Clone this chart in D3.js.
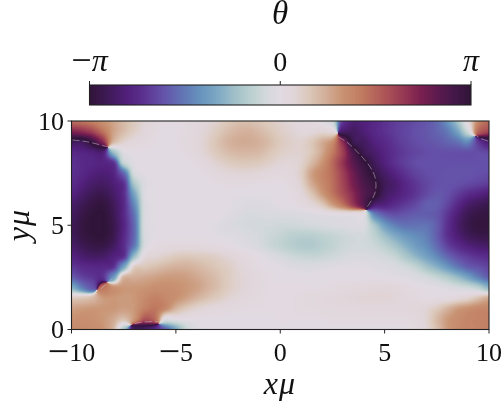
<!DOCTYPE html>
<html><head><meta charset="utf-8">
<script src="https://cdn.jsdelivr.net/npm/d3@7/dist/d3.min.js"></script>
<style>
html,body{margin:0;padding:0;background:#fff;}
#wrap{position:relative;width:504px;height:402px;overflow:hidden;}
canvas,svg{position:absolute;left:0;top:0;}
text{font-family:"Liberation Serif",serif;fill:#111;}
</style></head><body><div id="wrap"><canvas id="field"></canvas><svg id="chart" width="504" height="402"></svg></div>
<script>
// Phase, in hundredths of pi. Rows run y = 10 down to 0, columns x = -10 .. 10.
const xGrid = d3.range(41).map(i => -10 + i * 0.5);
const yGrid = d3.range(21).map(i => 10 - i * 0.5);
const phaseRows = [
[46,44,40,33,27,20,14,8,4,1, 0,2,4,7,11,15,18,18,16,13, 10,7,4,2,-3,-10,-70,-82,-80,-76, -72,-68,-66,-63,-60,-55,-42,-22,5,38,48],
[72,68,60,45,28,19,12,6,2,0, 1,2,5,9,14,19,22,23,20,16, 12,9,6,6,8,5,-85,-88,-82,-76, -72,-68,-65,-62,-60,-56,-50,-35,-8,50,60],
[-90,-90,95,70,22,10,5,3,1,0, 1,3,6,11,17,22,25,25,23,19, 14,11,10,15,24,34,70,-92,-88,-80, -75,-70,-66,-63,-61,-59,-56,-52,-45,-70,-85],
[-76,-78,-80,-82,-25,-3,0,0,0,0, 0,2,5,10,15,19,21,21,20,16, 12,10,10,15,26,42,62,90,-92,-85, -78,-72,-68,-65,-63,-62,-62,-62,-62,-63,-65],
[-72,-75,-77,-78,-72,-12,-2,0,0,0, 0,0,2,6,10,13,15,15,14,11, 8,7,10,20,32,48,66,84,97,-90, -80,-72,-67,-63,-62,-62,-62,-62,-62,-62,-62],
[-72,-76,-80,-82,-78,-55,-6,-1,0,0, 0,0,0,2,5,7,8,8,7,5, 4,5,12,28,38,47,62,78,92,-96, -86,-78,-71,-66,-63,-62,-61,-61,-61,-62,-63],
[-74,-80,-85,-87,-82,-72,-20,-4,-1,0, 0,0,0,0,1,2,2,2,1,1, 0,3,10,25,36,46,60,75,88,97, -90,-84,-76,-70,-65,-62,-61,-62,-64,-66,-68],
[-78,-85,-91,-93,-86,-74,-35,-3,-1,0, 0,0,0,0,0,0,-1,-1,-1,-1, 0,1,6,16,30,44,57,70,85,95, -88,-82,-76,-70,-64,-60,-62,-68,-74,-78,-82],
[-85,-91,-96,-98,-90,-76,-45,-5,-1,0, 0,0,0,0,0,-1,-2,-3,-3,-2, 0,0,3,7,15,30,45,65,85,-85, -80,-74,-69,-64,-58,-58,-65,-75,-85,-90,-93],
[-88,-95,-99,-100,-92,-76,-52,-5,-1,0, 0,0,0,0,0,-2,-4,-6,-6,-5, -5,-5,-4,-3,-2,-1,0,0,-1,-45, -58,-62,-60,-58,-58,-60,-70,-82,-92,-96,-97],
[-90,-97,-100,-100,-94,-78,-55,-5,-1,0, 0,0,0,-1,-2,-4,-6,-7,-8,-8, -9,-9,-8,-7,-6,-5,-4,-3,-4,-20, -38,-48,-52,-52,-52,-58,-72,-85,-94,-98,-98],
[-90,-96,-99,-100,-93,-76,-55,-6,-1,0, 0,0,0,0,-1,-2,-3,-5,-7,-10, -12,-15,-16,-16,-14,-12,-10,-8,-8,-14, -24,-33,-40,-44,-48,-58,-72,-82,-90,-94,-95],
[-85,-91,-95,-95,-88,-74,-50,-6,2,3, 4,4,4,3,2,1,-1,-3,-6,-10, -13,-16,-18,-18,-16,-13,-10,-8,-8,-10, -15,-22,-30,-38,-44,-54,-66,-74,-80,-84,-86],
[-78,-84,-87,-86,-80,-72,-25,5,8,11, 14,15,14,13,11,8,5,2,0,-3, -6,-9,-11,-12,-11,-9,-7,-5,-5,-6, -8,-12,-20,-28,-36,-45,-55,-63,-68,-72,-74],
[-70,-74,-76,-76,-72,-35,12,15,18,21, 23,23,21,18,15,12,8,4,1,0, -1,-3,-4,-4,-3,-2,-1,-1,-1,-2, -3,-5,-8,-13,-22,-30,-40,-50,-58,-62,-66],
[-58,-66,-70,-72,-40,22,24,26,28,30, 30,29,26,22,18,13,9,6,3,1, 0,0,0,0,0,0,0,0,0,0, 0,-1,-2,-4,-7,-12,-18,-26,-36,-48,-58],
[-30,-48,-60,45,34,31,31,32,34,34, 33,31,28,23,18,13,9,6,3,1, 1,1,1,1,1,2,3,4,5,6, 6,5,3,1,0,-1,-3,-6,-9,-15,-28],
[15,16,20,30,31,30,31,36,40,37, 33,28,22,17,13,9,6,4,2,1, 1,1,2,3,4,5,6,7,8,8, 8,7,5,3,1,2,3,6,10,18,26],
[28,30,31,31,31,29,31,40,44,36, 22,14,9,6,4,3,2,1,1,1, 1,1,2,2,3,3,4,4,5,5, 5,5,5,6,8,14,22,30,34,37,38],
[33,34,33,31,26,18,32,55,48,-2, 0,0,0,0,0,0,0,0,0,0, 1,1,1,1,1,2,2,2,2,2, 2,2,2,4,9,20,30,35,38,39,40],
[36,36,35,32,22,-20,-88,-85,-75,-58, -35,-12,-3,-1,0,0,0,0,0,0, 0,0,0,0,0,0,0,0,0,0, 0,0,0,2,8,18,30,36,38,39,40]
];
// Colour bar stops, hundredths of pi -> colour
const colorStops = [-100,-90,-80,-73,-62,-52,-43,-32,-24,-15,-8,0,8,15,24,32,43,53,64,73,82,90,100];
const colorValues = ["#301438","#3f1a58","#52207c","#5a2d8c","#6450a8","#6272b4","#6590bc","#80aac4","#a0bfc8","#bcd0d0","#d2d8dc","#e2dae2","#e0d4d6","#dcc8ba","#d2ae98","#c99474","#c07a60","#b05a58","#983a54","#7c2050","#5e1a4e","#46184a","#301438"];
// Branch cuts (thin pale lines joining the vortices)
const cutA = [[-9.95,9.09],[-9.23,9.0],[-8.23,8.75]];
const cutB = [[-9,1.68],[-8.52,2.02],[-8.04,2.45]];
const cutC = [[-7.42,0.14],[-6.7,0.34],[-5.88,0.38]];
const cutD = [[2.78,9.23],[3.25,8.94],[3.83,8.37],[4.31,7.79],[4.55,7.26],[4.55,6.59],[4.16,5.87]];
const cutE = [[9.23,9.42],[9.57,9.18],[9.95,9.04]];
const xTicks = [-10,-5,0,5,10];
const yTicks = [0,5,10];
const barTicks = [{v:-100,t:"\u03C0",neg:true},{v:0,t:"0"},{v:100,t:"\u03C0"}];

phaseRows.forEach((r,i)=>{ if(r.length!==41) throw new Error("row "+i+" has "+r.length); });

const L=71.5,R=489,T=121,B=329.5, CL=89.5,CR=471,CT=85,CB=105;
const x=d3.scaleLinear().domain([-10,10]).range([L,R]);
const y=d3.scaleLinear().domain([0,10]).range([B,T]);
const cbar=d3.scaleLinear().domain([-100,100]).range([CL,CR]);
const color=d3.scaleLinear().domain(colorStops).range(colorValues).interpolate(d3.interpolateRgb).clamp(true);

// Heat field: each pixel resamples the surrounding grid values as unit phasors (cubic kernel)
const cv=document.getElementById("field"); cv.width=504; cv.height=402;
const ctx=cv.getContext("2d");
const col=d3.scaleLinear().domain([xGrid[0],xGrid[40]]).range([0,40]);
const row=d3.scaleLinear().domain([yGrid[0],yGrid[20]]).range([0,20]);
const lut=d3.range(401).map(i=>d3.rgb(color(-100+i*0.5)));
const x0=Math.round(L),x1=Math.round(R),y0=Math.round(T),y1=Math.round(B);
const img=ctx.createImageData(x1-x0,y1-y0);
const reG=phaseRows.map(r=>r.map(v=>Math.cos(v*Math.PI/100)));
const imG=phaseRows.map(r=>r.map(v=>Math.sin(v*Math.PI/100)));
const kern=t=>[-0.5*t*t*t+t*t-0.5*t,1.5*t*t*t-2.5*t*t+1,-1.5*t*t*t+2*t*t+0.5*t,0.5*t*t*t-0.5*t*t];
for(let py=y0;py<y1;py++){
  const fr=row(y.invert(py+.5));
  const r0=Math.min(19,Math.floor(fr)),kr=kern(fr-r0);
  for(let px=x0;px<x1;px++){
    const fc=col(x.invert(px+.5));
    const c0=Math.min(39,Math.floor(fc)),kc=kern(fc-c0);
    let re=0,im=0;
    for(let a=0;a<4;a++){
      const ri=Math.max(0,Math.min(20,r0-1+a));
      for(let b=0;b<4;b++){
        const ci=Math.max(0,Math.min(40,c0-1+b));
        const k=kr[a]*kc[b];
        re+=k*reG[ri][ci];im+=k*imG[ri][ci];
      }
    }
    const v=Math.atan2(im,re)*100/Math.PI;
    const c=lut[Math.round((v+100)*2)];
    const o=((py-y0)*(x1-x0)+(px-x0))*4;
    img.data[o]=c.r;img.data[o+1]=c.g;img.data[o+2]=c.b;img.data[o+3]=255;
  }
}
ctx.putImageData(img,x0,y0);

const svg=d3.select("#chart");
const line=d3.line().x(d=>x(d[0])).y(d=>y(d[1])).curve(d3.curveCatmullRom);
svg.append("g").selectAll("path").data([cutA,cutB,cutC,cutD,cutE]).join("path")
  .attr("d",line).attr("fill","none").attr("stroke","#d9c8d4").attr("stroke-width",0.7).attr("stroke-dasharray","7 3").attr("opacity",0.7);

const ink="#222";
svg.append("rect").attr("x",L).attr("y",T).attr("width",R-L).attr("height",B-T).attr("fill","none").attr("stroke",ink).attr("stroke-width",1.1);
const fs=26;
function tickText(sel,fontSize,minusSize,lift){
  sel.each(function(d){
    const t=d3.select(this), neg=d.neg||d<0, str=d.t!==undefined?d.t:Math.abs(d);
    if(neg){
      t.append("tspan").attr("font-size",minusSize).attr("font-style","normal").attr("dy",lift).text("\u2212");
      t.append("tspan").attr("dy",-lift).text(str);
    } else t.text(str);
  });
}
svg.append("g").selectAll("line").data(xTicks).join("line").attr("x1",d=>x(d)).attr("x2",d=>x(d)).attr("y1",B).attr("y2",B+4).attr("stroke",ink);
svg.append("g").selectAll("text").data(xTicks).join("text").attr("x",d=>x(d)).attr("y",361).attr("text-anchor","middle").attr("font-size",fs).call(tickText,fs,38,2.5);
svg.append("g").selectAll("line").data(yTicks).join("line").attr("y1",d=>y(d)).attr("y2",d=>y(d)).attr("x1",L-4).attr("x2",L).attr("stroke",ink);
svg.append("g").selectAll("text").data(yTicks).join("text").attr("x",64).attr("y",d=>y(d)+8.5).attr("text-anchor","end").attr("font-size",fs).text(d=>d);

// colour bar, one column per pixel
const barPx=d3.range(Math.floor(CL),Math.ceil(CR));
svg.append("g").attr("shape-rendering","crispEdges").selectAll("rect").data(barPx).join("rect")
  .attr("x",d=>d).attr("y",CT).attr("width",1).attr("height",CB-CT).attr("fill",d=>color(cbar.invert(d+.5)));
svg.append("rect").attr("x",CL).attr("y",CT).attr("width",CR-CL).attr("height",CB-CT).attr("fill","none").attr("stroke",ink).attr("stroke-width",1.1);
svg.append("g").selectAll("line").data(barTicks).join("line").attr("x1",d=>cbar(d.v)).attr("x2",d=>cbar(d.v)).attr("y1",CT).attr("y2",CT-4).attr("stroke",ink);
svg.append("g").selectAll("text").data(barTicks).join("text").attr("x",d=>cbar(d.v)).attr("y",71).attr("text-anchor","middle").attr("font-size",d=>d.v===0?28:32)
  .attr("font-style",d=>d.v===0?"normal":"italic").call(tickText,32,36,1);

// labels
svg.append("text").attr("x",280).attr("y",24).attr("text-anchor","middle").attr("font-size",33).attr("font-style","italic").text("\u03B8");
svg.append("text").attr("x",280).attr("y",394).attr("text-anchor","middle").attr("font-size",32).attr("font-style","italic").attr("letter-spacing",1).text("x\u03BC");
svg.append("text").attr("transform","translate(29,225) rotate(-90)").attr("text-anchor","middle").attr("font-size",32).attr("font-style","italic").attr("letter-spacing",1).text("y\u03BC");
</script></body></html>
